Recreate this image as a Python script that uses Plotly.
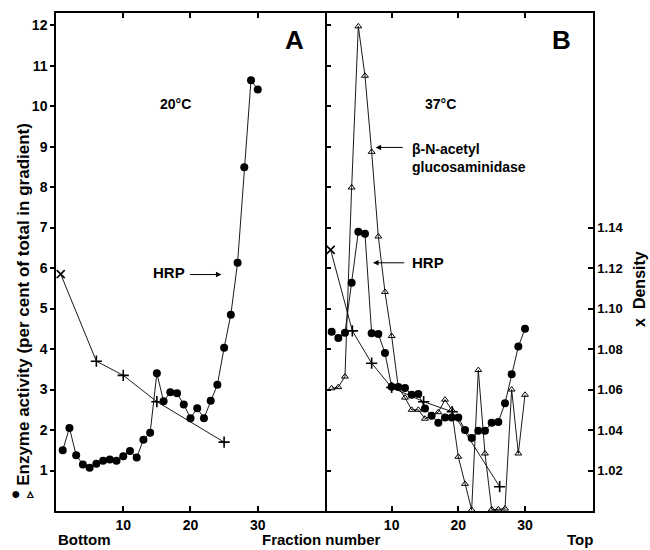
import plotly.graph_objects as go

# ---------------- data ----------------
fractions = list(range(1, 31))

# Panel A (20 °C)
hrp_A = [1.50, 2.05, 1.38, 1.15, 1.07, 1.17, 1.24, 1.27, 1.24, 1.35,
         1.48, 1.32, 1.76, 1.93, 3.40, 2.71, 2.93, 2.91, 2.63, 2.29,
         2.54, 2.29, 2.72, 3.12, 4.03, 4.85, 6.13, 8.49, 10.64, 10.41]
dens_A_frac = [0.7, 6, 10, 15, 25]
dens_A = [1.117, 1.074, 1.067, 1.054, 1.034]

# Panel B (37 °C)
hrp_B = [4.43, 4.27, 4.40, 5.64, 6.90, 6.85, 4.39, 4.37, 3.90, 3.07,
         3.06, 3.04, 2.87, 2.89, 2.53, 2.35, 2.18, 2.31, 2.31, 2.31,
         2.00, 1.80, 1.98, 1.98, 2.18, 2.20, 2.66, 3.38, 4.06, 4.50]
nag_B_frac = [1, 2, 3, 4, 5, 6, 7, 8, 9, 10, 11, 12, 13, 14, 15, 17, 18, 19,
              20, 21, 22, 23, 24, 25, 26, 27, 28, 29, 30]
nag_B = [3.03, 3.06, 3.32, 7.99, 11.97, 10.75, 8.87, 6.78, 5.41, 4.32,
         3.05, 2.80, 2.50, 2.50, 2.28, 2.44, 2.75, 2.50,
         1.34, 0.67, 0.03, 3.48, 1.42, 0.04, 0.04, 0.06, 3.00, 1.42, 2.87]
dens_B_frac = [0.85, 4.1, 7.0, 10, 14.8, 19.1, 26.2]
dens_B = [1.129, 1.089, 1.073, 1.061, 1.054, 1.049, 1.012]

enzyme_ticks = [1, 2, 3, 4, 5, 6, 7, 8, 9, 10, 11, 12]
density_ticks = [1.02, 1.04, 1.06, 1.08, 1.10, 1.12, 1.14]
density_labels = ["1.02", "1.04", "1.06", "1.08", "1.10", "1.12", "1.14"]
frac_ticks = [10, 20, 30]

# ---------------- figure ----------------
FONT = "Liberation Sans, Arial, sans-serif"
LW = 0.9

fig = go.Figure()

def line_trace(x, y, xa, ya, marker):
    return go.Scatter(x=x, y=y, xaxis=xa, yaxis=ya, mode="lines+markers",
                      line=dict(color="black", width=LW), marker=marker,
                      showlegend=False, hoverinfo="skip")

dot = dict(symbol="circle", size=8, color="black")
tri = dict(symbol="triangle-up-open", size=6, color="black", line=dict(width=1, color="black"))
crossA = dict(symbol=["x-thin"] + ["cross-thin"] * (len(dens_A) - 1), size=8,
              color="black", line=dict(width=1.6, color="black"))
crossB = dict(symbol=["x-thin"] + ["cross-thin"] * (len(dens_B) - 1), size=8,
              color="black", line=dict(width=1.6, color="black"))

fig.add_trace(line_trace(dens_A_frac, dens_A, "x", "y3", crossA))
fig.add_trace(line_trace(fractions, hrp_A, "x", "y", dot))
fig.add_trace(line_trace(dens_B_frac, dens_B, "x2", "y3", crossB))
fig.add_trace(line_trace(nag_B_frac, nag_B, "x2", "y", tri))
fig.add_trace(line_trace(fractions, hrp_B, "x2", "y", dot))

tickfont = dict(family=FONT, size=14, color="black", weight="bold")
D = 0.5009
YR = [0, 12.3]

axis_common = dict(showgrid=False, zeroline=False, showline=True, linecolor="black",
                   linewidth=1.5, tickcolor="black", tickwidth=1.5, tickfont=tickfont)

fig.update_layout(
    width=650, height=550,
    margin=dict(l=56, r=57, t=11, b=39),
    paper_bgcolor="white", plot_bgcolor="white",
    xaxis=dict(domain=[0, D], range=[0, 40], tickvals=frac_ticks, ticks="inside",
               ticklen=5, mirror="ticks", anchor="y", **axis_common),
    xaxis2=dict(domain=[D, 1], range=[0, 40.2], tickvals=frac_ticks, ticks="inside",
                ticklen=5, mirror="ticks", anchor="y4", **axis_common),
    yaxis=dict(range=YR, tickvals=enzyme_ticks, ticks="outside", ticklen=4,
               mirror="ticks", anchor="x", **axis_common),
    yaxis4=dict(range=YR, tickvals=enzyme_ticks, ticks="outside", ticklen=4,
                showticklabels=False, overlaying="y", anchor="x2", side="left",
                **axis_common),
    yaxis3=dict(range=[1, 1.246], tickvals=density_ticks, ticktext=density_labels,
                ticks="inside", ticklen=5, overlaying="y", anchor="x2", side="right",
                **{**axis_common, "tickfont": dict(family=FONT, size=13, color="black",
                                                   weight="bold")}),
)

ann = []
def txt(text, x, y, xref, yref, size=14, xanchor="center", yanchor="middle",
        angle=0, align="center"):
    ann.append(dict(text=text, x=x, y=y, xref=xref, yref=yref, showarrow=False,
                    xanchor=xanchor, yanchor=yanchor, textangle=angle, align=align,
                    font=dict(family=FONT, size=size, color="black", weight="bold")))

def arrow(x0, y0, x1, y1, xref, yref):
    ann.append(dict(text="", x=x1, y=y1, ax=x0, ay=y0, xref=xref, yref=yref,
                    axref=xref, ayref=yref, showarrow=True, arrowhead=2,
                    arrowsize=1.1, arrowwidth=1, arrowcolor="black"))

txt("A", 35.5, 11.64, "x", "y", size=26)
txt("B", 35.5, 11.64, "x2", "y", size=26)
txt("20°C", 17.7, 10.06, "x", "y", size=14)
txt("37°C", 17.35, 10.06, "x2", "y", size=14)
txt("HRP", 16.8, 5.89, "x", "y", size=15)
arrow(19.7, 5.84, 24.6, 5.84, "x", "y")
txt("HRP", 12.8, 6.13, "x2", "y", size=15, xanchor="left")
arrow(12.1, 6.13, 7.2, 6.13, "x2", "y")
txt("β-N-acetyl<br>glucosaminidase", 12.8, 8.72, "x2", "y", size=14,
    xanchor="left", align="left")
arrow(11.9, 8.98, 7.6, 8.98, "x2", "y")

txt("Bottom", 0.0, -0.058, "paper", "paper", size=15, xanchor="left")
txt("Fraction number", 0.495, -0.058, "paper", "paper", size=15)
txt("Top", 0.976, -0.058, "paper", "paper", size=15)
txt("Enzyme activity (per cent of total in gradient)", -0.0596, 0.416,
    "paper", "paper", size=17, angle=-90)
txt("●", -0.0745, 0.036, "paper", "paper", size=16)
txt("▵", -0.0484, 0.036, "paper", "paper", size=13)
txt("x  Density", 1.0875, 0.446, "paper", "paper", size=16, angle=-90)

fig.update_layout(annotations=ann)
fig.write_html("out.html", config={"displayModeBar": False},
               post_script="document.body.style.margin='0px';document.body.style.overflow='hidden';")
